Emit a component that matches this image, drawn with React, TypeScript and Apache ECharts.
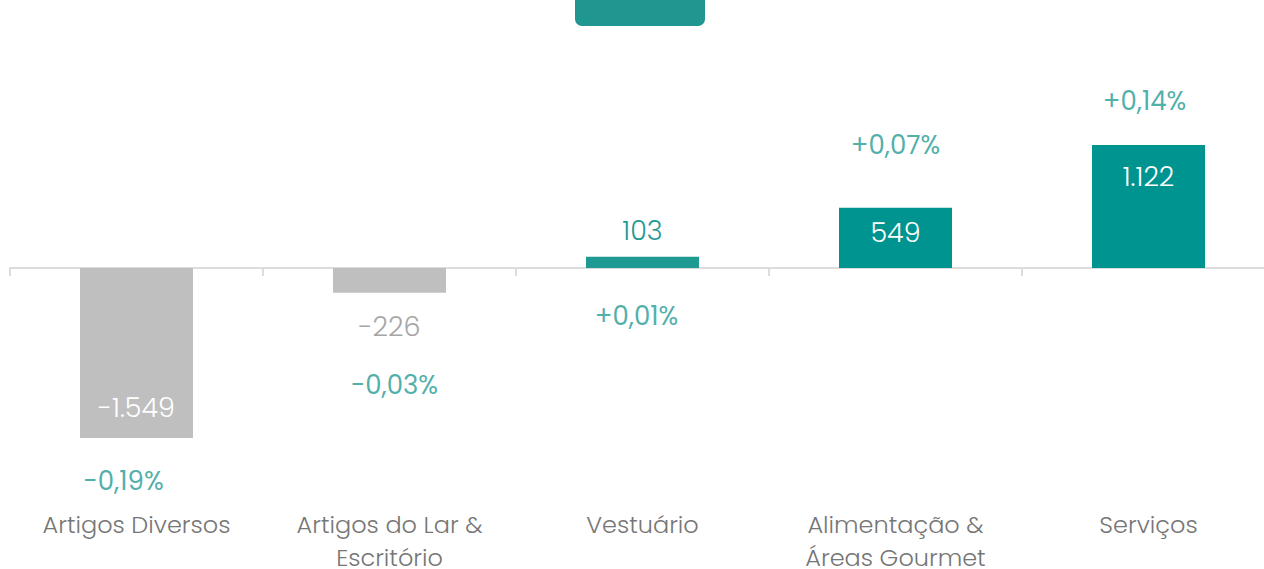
import React, { useEffect, useRef } from "react";
import * as echarts from "echarts";

const categories = ["Artigos Diversos", "Artigos do Lar &\nEscritório", "Vestuário", "Alimentação &\nÁreas Gourmet", "Serviços"];
const values = [-1549, -226, 103, 549, 1122];
const valueLabels = ["-1.549", "-226", "103", "549", "1.122"];
const pctLabels = ["-0,19%", "-0,03%", "+0,01%", "+0,07%", "+0,14%"];

const GRAY = "#bfbfbf";
const TEAL = "#009490";
const TEAL2 = "#1f9a93";
const FONT = "Poppins, Inter, 'Noto Sans', sans-serif";

// styling per bar (not data)
const barColors = [GRAY, GRAY, TEAL2, TEAL, TEAL];
const labelPos = ["insideBottom", "bottom", "top", "insideTop", "insideTop"];
const labelDist = [17, 20, 13, 11, 18];
const labelColors = ["#ffffff", "#a6a6a6", TEAL2, "#ffffff", "#ffffff"];
const pctOffsets: [number, number][] = [[-13, 43], [5, 92], [-6, 59], [0, -63], [-4, -44]];

export default function App() {
  const ref = useRef<HTMLDivElement>(null);
  useEffect(() => {
    document.body.style.margin = "0";
    const chart = echarts.init(ref.current!, null, { renderer: "svg" });
    chart.setOption({
      animation: false,
      textStyle: { fontFamily: FONT },
      graphic: [
        {
          type: "rect",
          shape: { x: 575, y: 0, width: 130, height: 26, r: [0, 0, 7, 7] },
          style: { fill: "#1f968f" },
        },
      ],
      grid: { left: 10, right: -11, top: 48.6, bottom: 70.6, outerBoundsMode: "none", containLabel: false },
      xAxis: [
        {
          type: "category",
          data: categories,
          position: "bottom",
          axisLine: { show: false, onZero: false },
          axisTick: { show: false },
          axisLabel: {
            color: "#767676",
            fontSize: 24,
            fontWeight: 300,
            lineHeight: 33,
            margin: 10,
            interval: 0,
            fontFamily: FONT,
          },
        },
        {
          type: "category",
          data: categories,
          position: "bottom",
          axisLine: { show: true, onZero: true, lineStyle: { color: "#dcdcdc", width: 2 } },
          axisTick: { show: true, length: 8, lineStyle: { color: "#dcdcdc", width: 2 } },
          axisLabel: { show: false },
        },
      ],
      yAxis: {
        type: "value",
        min: -2100,
        max: 2000,
        show: false,
        splitLine: { show: false },
      },
      series: [
        {
          type: "bar",
          barWidth: 113,
          data: values.map((v, i) => ({
            value: v,
            itemStyle: { color: barColors[i] },
            label: {
              show: true,
              position: labelPos[i],
              distance: labelDist[i],
              color: labelColors[i],
              formatter: valueLabels[i],
              fontSize: 27,
              lineHeight: 27,
              fontWeight: 300,
              fontFamily: FONT,
            },
          })),
        },
        {
          type: "scatter",
          symbolSize: 0,
          silent: true,
          data: values.map((v, i) => ({
            value: v,
            label: {
              show: true,
              position: "inside",
              offset: pctOffsets[i],
              formatter: pctLabels[i],
              color: TEAL2,
              fontSize: 26,
              lineHeight: 26,
              fontWeight: 400,
              fontFamily: FONT,
            },
          })),
        },
      ],
    });
    return () => chart.dispose();
  }, []);
  return <div ref={ref} style={{ width: 1264, height: 569 }} />;
}
